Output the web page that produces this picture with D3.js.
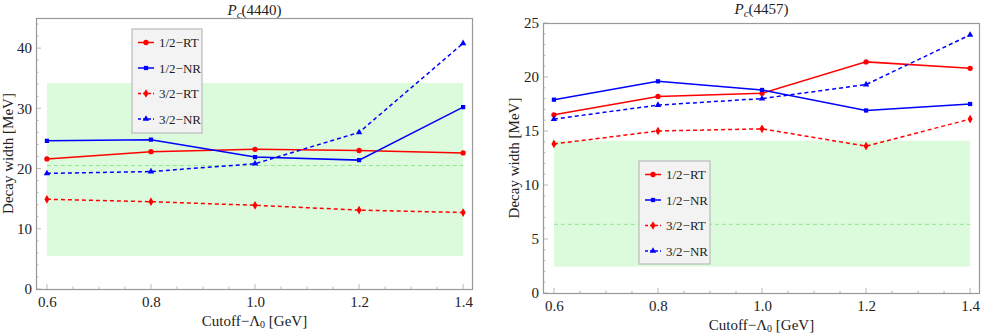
<!DOCTYPE html>
<html>
<head>
<meta charset="utf-8">
<script src="https://cdn.jsdelivr.net/npm/d3@7"></script>
<style>
  body { margin: 0; background: #fff; }
  svg { display: block; }
  svg text { font-family: "Liberation Serif", "Times New Roman", serif; fill: #222; }
</style>
</head>
<body>
<svg id="chart" width="981" height="333" font-family="Liberation Serif, serif"></svg>
<script>
// cutoff values (GeV) shared by both panels
const cutoffs = [0.6, 0.8, 1.0, 1.2, 1.4];
const legendLabels = ["1/2\u2212RT", "1/2\u2212NR", "3/2\u2212RT", "3/2\u2212NR"];

// Pc(4440) decay widths [MeV]
const pc4440_halfRT = [21.6, 22.8, 23.2, 23.0, 22.6];
const pc4440_halfNR = [24.6, 24.8, 21.9, 21.4, 30.2];
const pc4440_threeRT = [14.9, 14.5, 13.9, 13.1, 12.7];
const pc4440_threeNR = [19.2, 19.5, 20.8, 26.0, 40.8];
const pc4440_band = [5.5, 34.2];
const pc4440_central = 20.5;

// Pc(4457) decay widths [MeV]
const pc4457_halfRT = [16.5, 18.2, 18.5, 21.4, 20.8];
const pc4457_halfNR = [17.9, 19.6, 18.8, 16.9, 17.5];
const pc4457_threeRT = [13.8, 15.0, 15.2, 13.6, 16.1];
const pc4457_threeNR = [16.1, 17.4, 18.0, 19.3, 23.9];
const pc4457_band = [2.44, 14.1];
const pc4457_central = 6.36;

const xTicks = [0.6, 0.8, 1.0, 1.2, 1.4];

const styles = [
  {color: "#ff0000", dash: null, symbol: d3.symbolCircle, size: 22},
  {color: "#0000ff", dash: null, symbol: d3.symbolSquare, size: 18},
  {color: "#ff0000", dash: "4,3", symbol: d3.symbolDiamond, size: 22},
  {color: "#0000ff", dash: "4,3", symbol: d3.symbolTriangle, size: 18}
];

const panels = [
  {
    name: "4440",
    left: 36, right: 473, top: 18, bottom: 289,
    yMax: 45, yTicks: [0, 10, 20, 30, 40], yMinor: 2,
    series: [pc4440_halfRT, pc4440_halfNR, pc4440_threeRT, pc4440_threeNR],
    band: pc4440_band, central: pc4440_central,
    legend: {x: 132, y: 29, w: 70, h: 104},
    titleY: 15, ylabelX: 13, xlabelY: 326
  },
  {
    name: "4457",
    left: 543, right: 980, top: 23, bottom: 293,
    yMax: 25, yTicks: [0, 5, 10, 15, 20, 25], yMinor: 1,
    series: [pc4457_halfRT, pc4457_halfNR, pc4457_threeRT, pc4457_threeNR],
    band: pc4457_band, central: pc4457_central,
    legend: {x: 639, y: 161, w: 71, h: 103},
    titleY: 14, ylabelX: 519, xlabelY: 330
  }
];

const svg = d3.select("#chart");

panels.forEach(function (p) {
  let x = d3.scaleLinear().domain([0.579, 1.419]).range([p.left, p.right]);
  let y = d3.scaleLinear().domain([0, p.yMax]).range([p.bottom, p.top]);
  let g = svg.append("g");

  // green band + central dashed line
  g.append("rect")
    .attr("x", x(0.6)).attr("width", x(1.4) - x(0.6))
    .attr("y", y(p.band[1])).attr("height", y(p.band[0]) - y(p.band[1]))
    .attr("fill", "#dcfadc");
  g.append("line")
    .attr("x1", x(0.6)).attr("x2", x(1.4))
    .attr("y1", y(p.central)).attr("y2", y(p.central))
    .attr("stroke", "#8fe88f").attr("stroke-width", 1).attr("stroke-dasharray", "4,3");

  // inner ticks, left and bottom only
  let yMinor = d3.range(0, p.yMax + 0.001, p.yMinor);
  let xMinor = d3.range(0.6, 1.4001, 0.05);
  let tickCol = "#bbb";
  g.selectAll(".ymin").data(yMinor).enter().append("line")
    .attr("x1", p.left).attr("x2", d => p.left + (p.yTicks.includes(d) ? 5 : 2.5))
    .attr("y1", d => y(d)).attr("y2", d => y(d))
    .attr("stroke", tickCol);
  g.selectAll(".xmin").data(xMinor).enter().append("line")
    .attr("x1", d => x(d)).attr("x2", d => x(d))
    .attr("y1", p.bottom)
    .attr("y2", (d, i) => p.bottom - (i % 4 === 0 ? 5 : 2.5))
    .attr("stroke", tickCol);

  // tick labels through d3 axes
  let xAxis = d3.axisBottom(x).tickValues(xTicks).tickFormat(d3.format(".1f")).tickSize(0).tickPadding(7);
  let yAxis = d3.axisLeft(y).tickValues(p.yTicks).tickFormat(d3.format("d")).tickSize(0).tickPadding(4);
  let gx = g.append("g").attr("transform", "translate(0," + p.bottom + ")").call(xAxis);
  let gy = g.append("g").attr("transform", "translate(" + p.left + ",0)").call(yAxis);
  [gx, gy].forEach(function (a) {
    a.attr("font-family", null).attr("font-size", null);
    a.select(".domain").remove();
    a.selectAll("text").style("font-size", "15px").attr("fill", "#222");
  });

  // frame
  g.append("rect")
    .attr("x", p.left + 0.5).attr("y", p.top + 0.5)
    .attr("width", p.right - p.left - 1).attr("height", p.bottom - p.top)
    .attr("fill", "none").attr("stroke", "#999").attr("stroke-width", 1.2);

  // series
  let line = d3.line().x((d, i) => x(cutoffs[i])).y(d => y(d));
  p.series.forEach(function (vals, si) {
    let st = styles[si];
    g.append("path").datum(vals)
      .attr("d", line)
      .attr("fill", "none").attr("stroke", st.color).attr("stroke-width", 1.5)
      .attr("stroke-dasharray", st.dash);
    g.selectAll(".m" + si).data(vals).enter().append("path")
      .attr("d", d3.symbol().type(st.symbol).size(st.size))
      .attr("transform", (d, i) => "translate(" + x(cutoffs[i]) + "," + y(d) + ")")
      .attr("fill", st.color);
  });

  // legend
  let L = p.legend;
  let lg = g.append("g");
  lg.append("rect").attr("x", L.x).attr("y", L.y).attr("width", L.w).attr("height", L.h)
    .attr("fill", "#f3f3f3").attr("stroke", "#bbb").attr("stroke-width", 1.2);
  legendLabels.forEach(function (lab, i) {
    let st = styles[i];
    let cy = L.y + 13.5 + i * 25.5;
    lg.append("line").attr("x1", L.x + 6).attr("x2", L.x + 22).attr("y1", cy).attr("y2", cy)
      .attr("stroke", st.color).attr("stroke-width", 1.5).attr("stroke-dasharray", st.dash ? "3,2" : null);
    lg.append("path").attr("d", d3.symbol().type(st.symbol).size(st.size))
      .attr("transform", "translate(" + (L.x + 14) + "," + cy + ")").attr("fill", st.color);
    lg.append("text").attr("x", L.x + 27).attr("y", cy + 4.5)
      .style("font-size", "13px").text(lab);
  });

  // title
  let cx = (p.left + p.right) / 2;
  let t = g.append("text").attr("x", cx).attr("y", p.titleY).attr("text-anchor", "middle").style("font-size", "15px");
  t.append("tspan").style("font-style", "italic").text("P");
  t.append("tspan").style("font-style", "italic").style("font-size", "11px").attr("dy", 3).text("c");
  t.append("tspan").attr("dy", -3).text("(" + p.name + ")");

  // x label
  let xl = g.append("text").attr("x", cx).attr("y", p.xlabelY).attr("text-anchor", "middle").style("font-size", "15px");
  xl.append("tspan").text("Cutoff\u2212\u039B");
  xl.append("tspan").style("font-size", "10px").attr("dy", 2).text("0");
  xl.append("tspan").attr("dy", -2).text(" [GeV]");

  // y label
  g.append("text")
    .attr("transform", "translate(" + p.ylabelX + "," + ((p.top + p.bottom) / 2) + ") rotate(-90)")
    .attr("text-anchor", "middle").style("font-size", "15px")
    .text("Decay width [MeV]");
});
</script>
</body>
</html>
